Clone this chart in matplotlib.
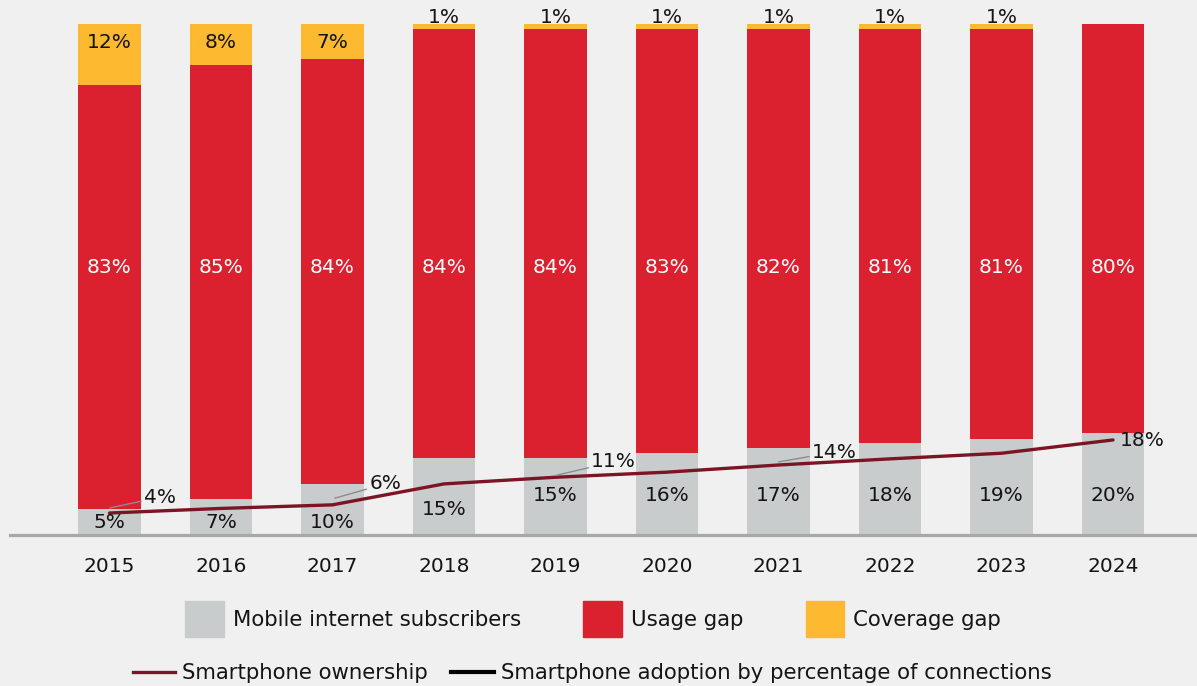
#!/usr/bin/env python3

import numpy as np
import matplotlib
matplotlib.use('Agg')
import matplotlib.pyplot as plt
from matplotlib.patches import Patch
from matplotlib.lines import Line2D

years = ['2015', '2016', '2017', '2018', '2019', '2020', '2021', '2022', '2023', '2024']
subscribers = [5, 7, 10, 15, 15, 16, 17, 18, 19, 20]
usage_gap = [83, 85, 84, 84, 84, 83, 82, 81, 81, 80]
coverage_gap = [12, 8, 7, 1, 1, 1, 1, 1, 1, 0]
# smartphone ownership (% of population)
ownership = [4.3, 5.2, 5.9, 10.0, 11.3, 12.3, 13.7, 14.9, 16.0, 18.6]
ownership_labels = {0: '4%', 2: '6%', 4: '11%', 6: '14%', 9: '18%'}

GREY = '#c9cccd'
RED = '#db202f'
YELLOW = '#fdb930'
LINE = '#7b1526'
BG = '#f0f0f0'
TXT = '#141414'
FS = 14.5
LFS = 15.3

plt.rcParams['font.family'] = ['DejaVu Sans']

fig = plt.figure(figsize=(11.97, 6.86), dpi=100, facecolor=BG)
ax = fig.add_axes([10 / 1197, 1 - 535 / 686, 1 - 10 / 1197, (535 - 24) / 686])
ax.set_facecolor(BG)

x = np.arange(len(years))
sub = np.array(subscribers, float)
use = np.array(usage_gap, float)
cov = np.array(coverage_gap, float)
tot = sub + use + cov
# bars are drawn as 100% stacks
sub_h = sub / tot * 100
use_h = use / tot * 100
cov_h = cov / tot * 100

w = 0.56
ax.bar(x, sub_h, w, color=GREY, zorder=2)
ax.bar(x, use_h, w, bottom=sub_h, color=RED, zorder=2)
ax.bar(x, cov_h, w, bottom=sub_h + use_h, color=YELLOW, zorder=2)

ax.plot(x, ownership, color=LINE, lw=2.4, zorder=4, solid_capstyle='round')

# value labels
sub_label_y = [2.5, 2.5, 2.5, 4.9, 7.8, 7.8, 7.8, 7.8, 7.8, 7.8]
for i in x:
    ax.text(i, sub_label_y[i], '%d%%' % subscribers[i], ha='center', va='center',
            fontsize=FS, color=TXT, zorder=5)
    ax.text(i, 52.4, '%d%%' % usage_gap[i], ha='center', va='center',
            fontsize=FS, color='white', zorder=5)
    if coverage_gap[i] > 2:
        ax.text(i, 96.3, '%d%%' % coverage_gap[i], ha='center', va='center',
                fontsize=FS, color=TXT, zorder=5)
    elif coverage_gap[i] > 0:
        ax.text(i, 101.3, '%d%%' % coverage_gap[i], ha='center', va='center',
                fontsize=FS, color=TXT, zorder=5)

# ownership labels with small leader lines
leader = {0: (0.005, 5.3, 0.31, 7.4),
          2: (2.02, 7.2, 2.33, 10.0),
          4: (4.01, 11.7, 4.32, 14.3),
          6: (6.0, 14.3, 6.30, 16.2)}
for i, lab in ownership_labels.items():
    if i in leader:
        x0, y0, x1, y1 = leader[i]
        ax.annotate(lab, xy=(x0, y0), xytext=(x1, y1), ha='left', va='center',
                    fontsize=FS, color=TXT, zorder=5,
                    arrowprops=dict(arrowstyle='-', color='#8c8c8c', lw=1,
                                    shrinkA=0, shrinkB=0))
    else:
        ax.text(i + 0.06, ownership[i] - 0.2, lab, ha='left', va='center',
                fontsize=FS, color=TXT, zorder=5)

ax.set_xlim((10 - 109.5) / 111.5, (1197 - 109.5) / 111.5)
ax.set_ylim(0, 100)
ax.set_xticks(x)
ax.set_xticklabels(years, fontsize=FS, color=TXT)
ax.tick_params(axis='x', length=0, pad=16)
ax.set_yticks([])
for s in ['top', 'left', 'right']:
    ax.spines[s].set_visible(False)
ax.spines['bottom'].set_color('#a8a8a8')
ax.spines['bottom'].set_linewidth(2.3)
ax.spines['bottom'].set_zorder(3)

# legends
h1 = [Patch(color=GREY, label='Mobile internet subscribers'),
      Patch(color=RED, label='Usage gap'),
      Patch(color=YELLOW, label='Coverage gap')]
fig.legend(handles=h1, loc='center', bbox_to_anchor=(593 / 1197, 1 - 619 / 686),
           ncol=3, frameon=False, fontsize=LFS, handlelength=1.8, handleheight=2.3,
           handletextpad=0.42, columnspacing=2.95, labelcolor=TXT)

h2 = [Line2D([], [], color=LINE, lw=2.4, label='Smartphone ownership'),
      Line2D([], [], color='black', lw=3, label='Smartphone adoption by percentage of connections')]
fig.legend(handles=h2, loc='center', bbox_to_anchor=(592 / 1197, 1 - 673 / 686),
           ncol=2, frameon=False, fontsize=LFS, handlelength=2.0,
           handletextpad=0.33, columnspacing=1.1, labelcolor=TXT)

fig.savefig('out.png', dpi=100, facecolor=BG)
